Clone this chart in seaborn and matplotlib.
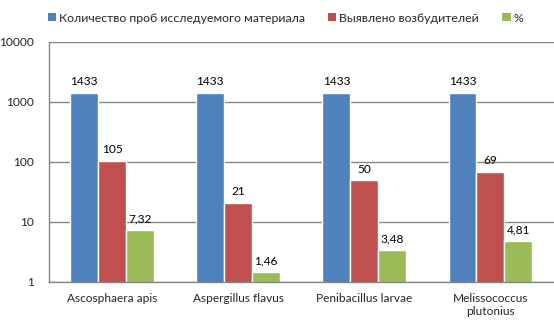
import matplotlib
matplotlib.use("Agg")
import matplotlib.pyplot as plt
from matplotlib.ticker import FixedLocator, FixedFormatter, NullLocator
from matplotlib.patches import Patch
import seaborn as sns
import pandas as pd

categories = ["Ascosphaera apis", "Aspergillus flavus", "Penibacillus larvae", "Melissococcus\nplutonius"]
series_names = ["Количество проб исследуемого материала", "Выявлено возбудителей", "%"]
samples = [1433, 1433, 1433, 1433]
detected = [105, 21, 50, 69]
percent = [7.32, 1.46, 3.48, 4.81]
value_labels = [["1433"] * 4, ["105", "21", "50", "69"], ["7,32", "1,46", "3,48", "4,81"]]
colors = ["#4F81BD", "#C0504D", "#9BBB59"]

sns.set_theme(style="white")
plt.rcParams["font.family"] = ["Lato", "DejaVu Sans"]

rows = []
for name, vals in zip(series_names, [samples, detected, percent]):
    for cat, v in zip(categories, vals):
        rows.append({"category": cat, "series": name, "value": v})
df = pd.DataFrame(rows)

fig = plt.figure(figsize=(5.54, 3.33), dpi=100)
ax = fig.add_axes([49 / 554, (333 - 282) / 333, (553.5 - 49) / 554, (282 - 42) / 333])

sns.barplot(data=df, x="category", y="value", hue="series", order=categories,
            hue_order=series_names, palette=colors, width=0.665, gap=0,
            saturation=1, errorbar=None, ax=ax, legend=False)
ax.set_yscale("log")
ax.set_ylim(1, 10000)
ax.set_xlim(-0.5, 3.5)
ax.set_xlabel("")
ax.set_ylabel("")

grid_c = "#868686"
ax.yaxis.set_major_locator(FixedLocator([1, 10, 100, 1000, 10000]))
ax.yaxis.set_major_formatter(FixedFormatter(["1", "10", "100", "1000", "10000"]))
ax.yaxis.set_minor_locator(NullLocator())
ax.yaxis.grid(True, color=grid_c, linewidth=1)
ax.set_axisbelow(True)

ax.xaxis.set_major_locator(FixedLocator([-0.5, 0.5, 1.5, 2.5, 3.5]))
ax.xaxis.set_major_formatter(FixedFormatter([""] * 5))
ax.xaxis.set_minor_locator(FixedLocator([0, 1, 2, 3]))
ax.xaxis.set_minor_formatter(FixedFormatter(categories))
ax.tick_params(axis="x", which="major", length=5, width=1, color=grid_c, direction="out")
ax.tick_params(axis="x", which="minor", length=0, pad=8, labelsize=8.6)
ax.tick_params(axis="y", which="major", length=5, width=1, color=grid_c, direction="out",
               labelsize=8.6, pad=6)
for lbl in ax.xaxis.get_minorticklabels():
    lbl.set_horizontalalignment("center")
    lbl.set_multialignment("center")

for side in ["top", "right"]:
    ax.spines[side].set_visible(False)
for side in ["left", "bottom"]:
    ax.spines[side].set_color(grid_c)
    ax.spines[side].set_linewidth(1)

# value labels above each bar, decimal comma
for cont, labels in zip(ax.containers, value_labels):
    ax.bar_label(cont, labels=labels, padding=4, fontsize=8.6, color="black")

handles = [Patch(facecolor=c, edgecolor="none") for c in colors]
fig.legend(handles, series_names, loc="center left", bbox_to_anchor=(48 / 554, 1 - 18 / 333),
           ncol=3, frameon=False, fontsize=8.8, handlelength=0.66, handleheight=0.66,
           handletextpad=0.25, columnspacing=1.9, borderpad=0, borderaxespad=0)

fig.savefig("out.png", dpi=100)
